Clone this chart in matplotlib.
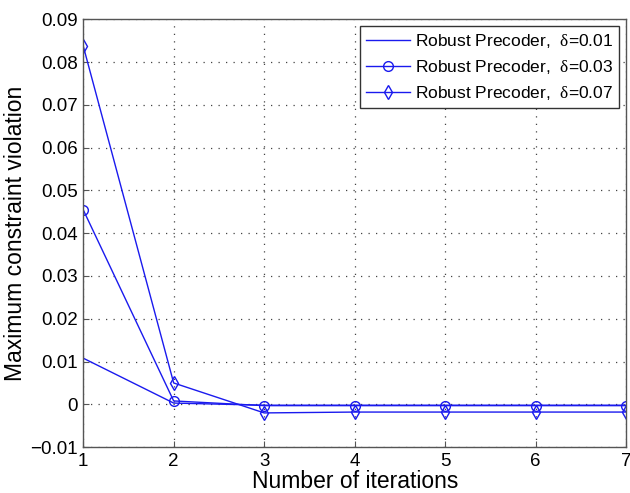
import matplotlib
matplotlib.use("Agg")
import matplotlib.pyplot as plt

# data
iters = [1, 2, 3, 4, 5, 6, 7]
viol_001 = [0.0108, 0.0003, -0.0002, -0.0002, -0.0002, -0.0002, -0.0002]
viol_003 = [0.0455, 0.0008, -0.0003, -0.0003, -0.0003, -0.0003, -0.0003]
viol_007 = [0.0838, 0.0050, -0.0020, -0.0018, -0.0018, -0.0018, -0.0018]
labels = [r"Robust Precoder,  $\delta$=0.01",
          r"Robust Precoder,  $\delta$=0.03",
          r"Robust Precoder,  $\delta$=0.07"]

plt.rcParams['font.family'] = ['Liberation Sans', 'DejaVu Sans']
plt.rcParams['mathtext.fontset'] = 'custom'
plt.rcParams['mathtext.rm'] = 'Liberation Serif'
plt.rcParams['mathtext.it'] = 'Liberation Serif'

fig = plt.figure(figsize=(6.3, 4.93), dpi=100)
ax = fig.add_axes([0.132, 0.093, 0.862, 0.868])

col = '#1a1aee'
ax.plot(iters, viol_001, color=col, lw=1.0, label=labels[0])
ax.plot(iters, viol_003, color=col, lw=1.0, marker='o', ms=7, mfc='none', mew=1.0, label=labels[1])
ax.plot(iters, viol_007, color=col, lw=1.0, marker='d', ms=7, mfc='none', mew=1.0, label=labels[2])

ax.set_xlim(1, 7)
ax.set_ylim(-0.01, 0.09)
ax.set_xticks(iters)
ax.set_yticks([-0.01, 0, 0.01, 0.02, 0.03, 0.04, 0.05, 0.06, 0.07, 0.08, 0.09])
ax.set_yticklabels(['\u22120.01', '0', '0.01', '0.02', '0.03', '0.04', '0.05',
                    '0.06', '0.07', '0.08', '0.09'])
ax.tick_params(labelsize=13.5, direction='in', length=4, color='#555555', pad=4)
ax.grid(True, linestyle=(0, (1, 5)), color='#444444', lw=0.9)
for s in ax.spines.values():
    s.set_color('#555555')
    s.set_linewidth(1.0)

ax.set_xlabel("Number of iterations", fontsize=16.5, labelpad=0)
ax.set_ylabel("Maximum constraint violation", fontsize=16.5, labelpad=2)

leg = ax.legend(loc='upper right', fontsize=12.5, fancybox=False, framealpha=1,
                edgecolor='#333333', borderaxespad=0.4, handlelength=2.5,
                handletextpad=0.3, borderpad=0.35, labelspacing=0.45)
leg.get_frame().set_linewidth(1.0)

fig.savefig("out.png", dpi=100)
